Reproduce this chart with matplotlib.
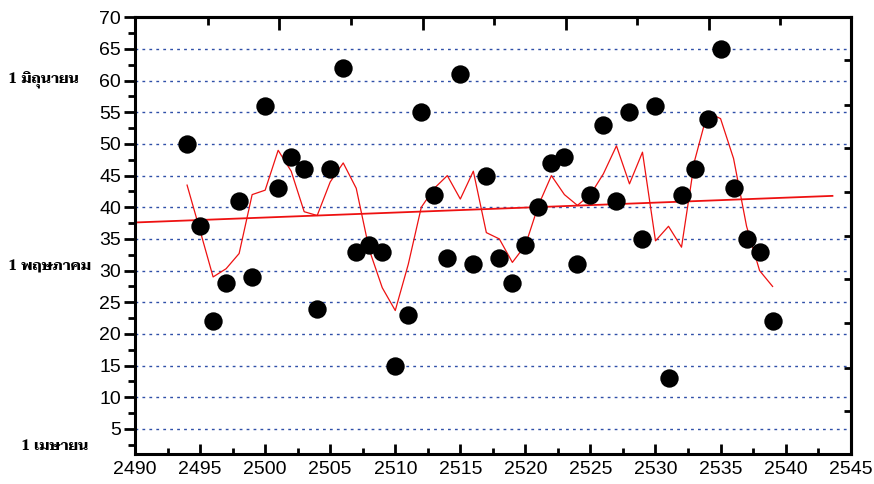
import numpy as np
import matplotlib
matplotlib.use("Agg")
import matplotlib.pyplot as plt
from matplotlib.ticker import MultipleLocator, FixedLocator

# year (B.E.) and day-of-season value
years = list(range(2494, 2540))
values = [50, 37, 22, 28, 41, 29, 56, 43, 48, 46,
          24, 46, 62, 33, 34, 33, 15, 23, 55, 42,
          32, 61, 31, 45, 32, 28, 34, 40, 47, 48,
          31, 42, 53, 41, 55, 35, 56, 13, 42, 46,
          54, 65, 43, 35, 33, 22]

# thin red running mean as drawn
smooth = [43.5, 36.3, 29.0, 30.3, 32.7, 42.0, 42.7, 49.0, 45.7, 39.3,
          38.7, 44.0, 47.0, 43.0, 33.3, 27.3, 23.7, 31.0, 40.0, 43.0,
          45.0, 41.3, 45.7, 36.0, 35.0, 31.3, 34.0, 40.3, 45.0, 42.0,
          40.3, 42.0, 45.3, 49.7, 43.7, 48.7, 34.7, 37.0, 33.7, 47.3,
          55.0, 54.0, 47.7, 37.0, 30.0, 27.5]

# straight trend line end points
trend_x = [2490, 2543.6]
trend_y = [37.6, 41.8]

# month labels on the left
month_labels = ["1 มิถุนายน", "1 พฤษภาคม", "1 เมษายน"]
month_pos = [60.1, 30.6, 2.2]

# extra ticks on the top and right frame
top_major = [2501.1, 2512.1, 2523.1, 2534.1]
top_minor = [2495.6, 2506.6, 2517.6, 2528.6, 2539.6]
right_ticks = [7.8, 14.7, 21.7, 28.6, 35.5, 42.4, 49.3, 56.2, 63.2]

tick_font = 'Liberation Sans'
thai_font = ['Taviraj', 'Noto Serif Thai', 'Noto Sans Thai', 'DejaVu Sans']

fig = plt.figure(figsize=(8.74, 4.84), dpi=100)
ax = fig.add_axes([0.1545, 0.0614, 0.8188, 0.9029])

for yv in range(5, 70, 5):
    ax.axhline(yv, color='#2f4fa8', lw=1.0, ls=(0, (2, 3)), zorder=1)

ax.plot(trend_x, trend_y, color='#ee1111', lw=1.3, zorder=2)
ax.plot(years, smooth, color='#ee1111', lw=0.9, zorder=3)
ax.scatter(years, values, s=175, color='black', zorder=4, linewidths=0)

ax.set_xlim(2490, 2545)
ax.set_ylim(1, 70)

for sp in ax.spines.values():
    sp.set_linewidth(2.2)

ax.xaxis.set_major_locator(MultipleLocator(5))
ax.xaxis.set_minor_locator(MultipleLocator(2.5))
ax.yaxis.set_major_locator(FixedLocator(list(range(5, 75, 5))))
ax.yaxis.set_minor_locator(FixedLocator([v + 2.5 for v in range(0, 70, 5)]))

ax.tick_params(axis='x', which='major', direction='in', length=7, width=2, pad=5)
ax.tick_params(axis='x', which='minor', direction='in', length=4, width=2)
ax.tick_params(axis='y', which='major', direction='out', length=8, width=2, pad=2)
ax.tick_params(axis='y', which='minor', direction='out', length=5, width=2)

for lab in ax.get_xticklabels() + ax.get_yticklabels():
    lab.set_fontfamily(tick_font)
    lab.set_fontsize(14)

# top frame ticks
sec_x = ax.secondary_xaxis('top')
sec_x.set_xticks(top_major)
sec_x.set_xticks(top_minor, minor=True)
sec_x.tick_params(which='major', direction='in', length=9, width=2, labeltop=False)
sec_x.tick_params(which='minor', direction='in', length=6, width=2)
sec_x.spines['top'].set_linewidth(2.2)

# right frame ticks
sec_y = ax.secondary_yaxis('right')
sec_y.set_yticks(right_ticks)
sec_y.yaxis.set_minor_locator(FixedLocator([]))
sec_y.tick_params(which='major', direction='in', length=5, width=2, labelright=False)
sec_y.spines['right'].set_linewidth(2.2)

# the April label sits a little further right in the original
for txt, pos, xoff in zip(month_labels, month_pos, (-0.177, -0.177, -0.160)):
    ax.text(xoff, pos, txt, transform=ax.get_yaxis_transform(),
            ha='left', va='center', fontsize=10.5, fontweight='bold',
            family=thai_font)

fig.savefig("out.png", dpi=100)
